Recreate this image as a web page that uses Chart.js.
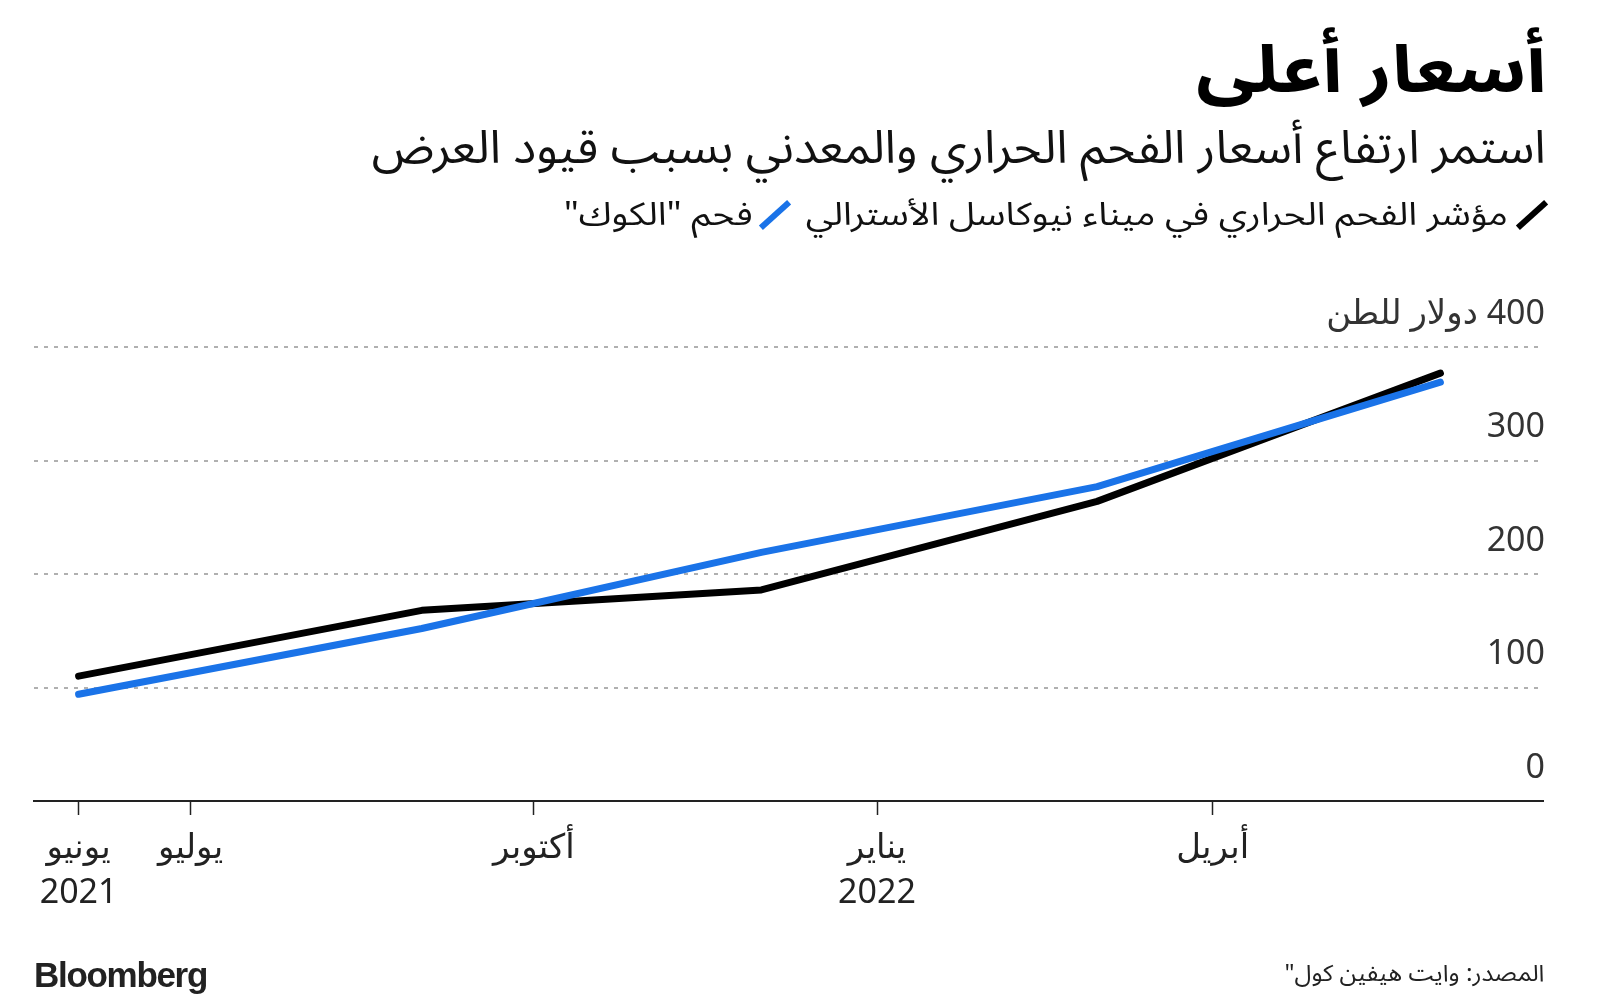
<!DOCTYPE html>
<html lang="ar">
<head>
<meta charset="utf-8">
<script src="https://cdn.jsdelivr.net/npm/chart.js@4.4.1/dist/chart.umd.min.js"></script>
<style>
  html, body { margin: 0; padding: 0; background: #fff; }
  #wrap { position: relative; width: 1600px; height: 1006px; overflow: hidden; }
  #chart { position: absolute; left: 0; top: 0; }
  .ar { font-family: "Noto Sans Arabic", "DejaVu Sans", sans-serif; direction: rtl; position: absolute; white-space: nowrap; color: #000; line-height: 1; transform-origin: right center; }
  #title { right: 54px; top: 38px; font-size: 66px; font-weight: bold; }
  #subtitle { right: 54px; top: 126px; font-size: 46px; color: #111; }
  .legtext { top: 199px; font-size: 32px; color: #111; }
  .mark { position: absolute; width: 38px; height: 6px; background: var(--c); transform: rotate(-42deg); }
  #source { right: 56px; top: 962px; font-size: 23px; color: #222; }
  #brand { position: absolute; left: 34px; top: 955px; font-family: "Liberation Sans", Arial, sans-serif; font-weight: bold; font-size: 35px; letter-spacing: -1.3px; color: #222; }
</style>
</head>
<body>
<div id="wrap">
  <canvas id="chart" width="1600" height="1006"></canvas>
  <div id="title" class="ar" data-w="350">أسعار أعلى</div>
  <div id="subtitle" class="ar" data-w="1174">استمر ارتفاع أسعار الفحم الحراري والمعدني بسبب قيود العرض</div>
  <div id="legend"></div>
  <div id="source" class="ar" data-w="260">المصدر: وايت هيفين كول"</div>
  <div id="brand">Bloomberg</div>
</div>
<script>
// data (quarterly points)
const dates = ['2021-06-01', '2021-09-01', '2021-12-01', '2022-03-01', '2022-06-01'];
const newcastle = [110, 168, 186, 264, 377];
const coking = [94, 152, 219, 277, 369];

const seriesNames = ['مؤشر الفحم الحراري في ميناء نيوكاسل الأسترالي', 'فحم "الكوك"'];
const seriesColors = ['#000000', '#1a73e8'];

const tickDates = ['2021-06-01', '2021-07-01', '2021-10-01', '2022-01-01', '2022-04-01'];
const tickLabels = [['يونيو', '2021'], ['يوليو'], ['أكتوبر'], ['يناير', '2022'], ['أبريل']];
const yTicks = [0, 100, 200, 300, 400];
const yUnit = 'دولار للطن';

const DAY = 86400000;
const t0 = Date.parse(dates[0]);
const toDay = d => Math.round((Date.parse(d) - t0) / DAY);

// legend: slash marker + name, laid out right to left
const legendSlots = [
  { markX: 1532, textRight: 92, textW: 702 },
  { markX: 775, textRight: 847, textW: 189 },
];
const wrap = document.getElementById('wrap');
seriesNames.forEach((name, i) => {
  const slot = legendSlots[i];
  const m = document.createElement('div');
  m.className = 'mark';
  m.style.setProperty('--c', seriesColors[i]);
  m.style.left = (slot.markX - 19) + 'px';
  m.style.top = '212px';
  wrap.appendChild(m);
  const t = document.createElement('div');
  t.className = 'ar legtext';
  t.textContent = name;
  t.style.right = slot.textRight + 'px';
  t.dataset.w = slot.textW;
  wrap.appendChild(t);
});

// stretch Arabic text to the widths seen in the reference
document.querySelectorAll('[data-w]').forEach(el => {
  const w = el.getBoundingClientRect().width;
  el.style.transform = `scaleX(${Number(el.dataset.w) / w})`;
});

const numFont = '"Noto Sans", "DejaVu Sans", sans-serif';

const ctx = document.getElementById('chart').getContext('2d');
new Chart(ctx, {
  type: 'line',
  data: {
    datasets: [
      {
        label: seriesNames[1],
        data: dates.map((d, i) => ({ x: toDay(d), y: coking[i] })),
        borderColor: seriesColors[1],
        borderWidth: 7,
        order: 0,
      },
      {
        label: seriesNames[0],
        data: dates.map((d, i) => ({ x: toDay(d), y: newcastle[i] })),
        borderColor: seriesColors[0],
        borderWidth: 7,
        order: 1,
      },
    ],
  },
  options: {
    responsive: false,
    animation: false,
    events: [],
    elements: {
      point: { radius: 0 },
      line: { tension: 0, borderCapStyle: 'round', borderJoinStyle: 'round' },
    },
    layout: {
      autoPadding: false,
      padding: { top: 347, left: 34, right: 57, bottom: 95 },
    },
    plugins: {
      legend: { display: false },
      title: { display: false },
      tooltip: { enabled: false },
    },
    scales: {
      x: {
        type: 'linear',
        min: -11.95,
        max: 392.5,
        afterBuildTicks: (scale) => {
          scale.ticks = tickDates.map(d => ({ value: toDay(d) }));
        },
        afterFit: (scale) => { scale.height = 110; },
        ticks: {
          autoSkip: false,
          maxRotation: 0,
          padding: 11,
          color: '#222',
          font: { family: numFont, size: 34, lineHeight: 1.32 },
          callback: (value, index) => tickLabels[index],
        },
        grid: {
          drawOnChartArea: false,
          drawTicks: true,
          tickLength: 14,
          tickWidth: 1.5,
          tickColor: '#222',
        },
        border: { display: true, color: '#222', width: 2 },
      },
      y: {
        position: 'right',
        min: 0,
        max: 400,
        afterBuildTicks: (scale) => {
          scale.ticks = yTicks.map(v => ({ value: v }));
        },
        afterFit: (scale) => { scale.width = 0; },
        ticks: {
          mirror: true,
          padding: 2,
          labelOffset: -33,
          color: '#333',
          font: { family: numFont, size: 34 },
          callback: (value) => value === 400 ? '\u200F' + value + ' ' + yUnit : String(value),
        },
        grid: {
          drawTicks: false,
          lineWidth: 2,
          color: (c) => (c.tick && c.tick.value === 0) ? 'rgba(0,0,0,0)' : '#b0b0b0',
        },
        border: { display: false, dash: [4, 6] },
      },
    },
  },
});
</script>
</body>
</html>
